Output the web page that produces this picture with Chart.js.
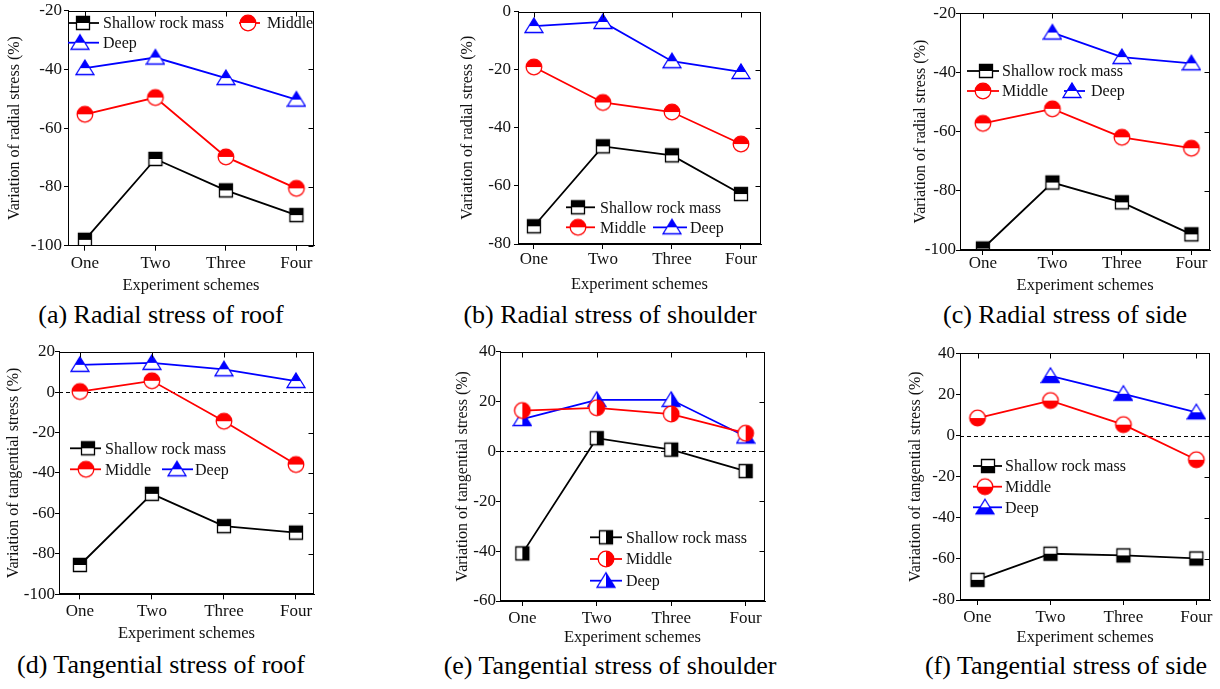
<!DOCTYPE html>
<html>
<head>
<meta charset="utf-8">
<script src="https://cdn.jsdelivr.net/npm/chart.js@4.4.1/dist/chart.umd.min.js"></script>
<style>
  body { margin: 0; background: #fff; }
  #page { position: relative; width: 1220px; height: 689px; overflow: hidden; background: #fff; }
  .panel { position: absolute; }
  .cap { position: absolute; font-family: "Liberation Serif", "Times New Roman", serif; font-size: 26px;
         line-height: 30px; white-space: nowrap; transform: translateX(-50%); color: #000; }
</style>
</head>
<body>
<div id="page"></div>
<script>
const schemes = ['One', 'Two', 'Three', 'Four'];
const seriesNames = ['Shallow rock mass', 'Middle', 'Deep'];
const seriesColors = ['#000000', '#ff0000', '#0000ff'];

// (a) radial stress of roof
const radialRoofShallow = [-98, -70.5, -81.2, -89.6];
const radialRoofMiddle = [-55.3, -49.6, -69.8, -80.5];
const radialRoofDeep = [-39.6, -36, -43, -50.3];

// (b) radial stress of shoulder
const radialShoulderShallow = [-73.9, -46.4, -49.5, -62.8];
const radialShoulderMiddle = [-19.1, -31.3, -34.6, -45.6];
const radialShoulderDeep = [-5, -3.6, -17.1, -20.8];

// (c) radial stress of side
const radialSideShallow = [-99.5, -77.2, -83.9, -94.7];
const radialSideMiddle = [-57.2, -52.3, -61.9, -65.6];
const radialSideDeep = [null, -26.5, -34.8, -36.9];

// (d) tangential stress of roof
const tangRoofShallow = [-85.5, -50.3, -66.3, -69.5];
const tangRoofMiddle = [0.3, 5.6, -14.4, -35.8];
const tangRoofDeep = [13.5, 14.5, 11.3, 5.5];

// (e) tangential stress of shoulder
const tangShoulderShallow = [-40.9, 5.3, 0.7, -7.9];
const tangShoulderMiddle = [16.4, 17.5, 15, 7.3];
const tangShoulderDeep = [13, 20.7, 20.7, 6];

// (f) tangential stress of side
const tangSideShallow = [-70.2, -57.5, -58.3, -59.8];
const tangSideMiddle = [8.5, 17, 5.3, -11.8];
const tangSideDeep = [null, 29, 20.3, 11.3];

const FONT = '"Liberation Serif", "Times New Roman", serif';

// half filled markers, like the Origin ones
function makeMarker(shape, color, half) {
  const s = 20;
  const c = document.createElement('canvas');
  c.width = s; c.height = s;
  const ctx = c.getContext('2d');
  const cx = s / 2, cy = s / 2;
  function path() {
    ctx.beginPath();
    if (shape === 'square') ctx.rect(cx - 6.5, cy - 6.5, 13, 13);
    else if (shape === 'circle') ctx.arc(cx, cy, 7.8, 0, Math.PI * 2);
    else {
      ctx.moveTo(cx, cy - 8);
      ctx.lineTo(cx + 9, cy + 6.5);
      ctx.lineTo(cx - 9, cy + 6.5);
      ctx.closePath();
    }
  }
  path();
  ctx.fillStyle = '#fff';
  ctx.fill();
  ctx.save();
  path();
  ctx.clip();
  ctx.fillStyle = color;
  if (half === 'top') ctx.fillRect(0, 0, s, cy);
  else if (half === 'bottom') ctx.fillRect(0, cy, s, s);
  else ctx.fillRect(cx, 0, s, s);
  ctx.restore();
  path();
  ctx.strokeStyle = color;
  ctx.lineWidth = 1.3;
  ctx.stroke();
  return c;
}

const shapes = ['square', 'circle', 'triangle'];

const panels = [
  { left: 0, top: 0, w: 330, h: 294, area: { l: 68, t: 9, r: 314, b: 245.7 },
    yMin: -100, yMax: -20, xMin: -0.24, xMax: 3.25, yTitle: 'Variation of radial stress (%)',
    yTitlePad: 5.4, yPad: 2, xPad: 4, half: 'top', zero: false,
    values: [radialRoofShallow, radialRoofMiddle, radialRoofDeep],
    legend: [{ s: 0, x: 68, y: 23, len: 31, m: 15, t: 35 }, { s: 1, x: 239, y: 23, len: 21, m: 9, t: 28 },
             { s: 2, x: 68, y: 42.7, len: 31, m: 12, t: 35 }],
    caption: '(a) Radial stress of roof', cx: 161, cy: 315 },
  { left: 450, top: 0, w: 330, h: 293, area: { l: 518, t: 11, r: 761, b: 244 },
    yMin: -80, yMax: 0, xMin: -0.23, xMax: 3.29, yTitle: 'Variation of radial stress (%)',
    yTitlePad: 8.4, yPad: 3, xPad: 2.5, half: 'top', zero: false,
    values: [radialShoulderShallow, radialShoulderMiddle, radialShoulderDeep],
    legend: [{ s: 0, x: 566, y: 207.3, len: 29, m: 12, t: 34 }, { s: 1, x: 566, y: 227.3, len: 29, m: 12, t: 34 },
             { s: 2, x: 653, y: 227.3, len: 34, m: 19, t: 37 }],
    caption: '(b) Radial stress of shoulder', cx: 610, cy: 315 },
  { left: 905, top: 0, w: 315, h: 294, area: { l: 960, t: 13.3, r: 1212, b: 250 },
    yMin: -100, yMax: -20, xMin: -0.33, xMax: 3.27, yTitle: 'Variation of radial stress (%)',
    yTitlePad: 6.4, yPad: 0, xPad: 0, half: 'top', zero: false,
    values: [radialSideShallow, radialSideMiddle, radialSideDeep],
    legend: [{ s: 0, x: 967, y: 71, len: 32, m: 19, t: 35 }, { s: 1, x: 967, y: 91, len: 32, m: 16, t: 35 },
             { s: 2, x: 1064, y: 91, len: 21, m: 8, t: 27 }],
    caption: '(c) Radial stress of side', cx: 1065, cy: 315 },
  { left: 0, top: 340, w: 330, h: 302.3, area: { l: 59, t: 351.7, r: 314, b: 594.3 },
    yMin: -100, yMax: 20, xMin: -0.29, xMax: 3.25, yTitle: 'Variation of tangential stress (%)',
    yTitlePad: 4.4, yPad: 0, xPad: 3.9, half: 'top', zero: true,
    values: [tangRoofShallow, tangRoofMiddle, tangRoofDeep],
    legend: [{ s: 0, x: 70, y: 448.3, len: 31, m: 18, t: 35 }, { s: 1, x: 70, y: 469.3, len: 31, m: 16, t: 35 },
             { s: 2, x: 162, y: 469.3, len: 31, m: 15, t: 33 }],
    caption: '(d) Tangential stress of roof', cx: 161, cy: 665 },
  { left: 448, top: 340, w: 332, h: 306.3, area: { l: 500, t: 351.7, r: 765, b: 601 },
    yMin: -60, yMax: 40, xMin: -0.3, xMax: 3.26, yTitle: 'Variation of tangential stress (%)',
    yTitlePad: 4.9, yPad: 0, xPad: 3.8, half: 'right', zero: true,
    values: [tangShoulderShallow, tangShoulderMiddle, tangShoulderDeep],
    legend: [{ s: 0, x: 590, y: 537.3, len: 32, m: 16, t: 36 }, { s: 1, x: 590, y: 559, len: 32, m: 16, t: 36 },
             { s: 2, x: 590, y: 580.7, len: 32, m: 16, t: 36 }],
    caption: '(e) Tangential stress of shoulder', cx: 610, cy: 666 },
  { left: 900, top: 340, w: 320, h: 305.7, area: { l: 960, t: 353.3, r: 1212, b: 600 },
    yMin: -80, yMax: 40, xMin: -0.24, xMax: 3.19, yTitle: 'Variation of tangential stress (%)',
    yTitlePad: 6.2, yPad: 1, xPad: 3.8, half: 'bottom', zero: true,
    values: [tangSideShallow, tangSideMiddle, tangSideDeep],
    legend: [{ s: 0, x: 973, y: 466, len: 29, m: 15, t: 32 }, { s: 1, x: 973, y: 486.7, len: 29, m: 12, t: 32 },
             { s: 2, x: 973, y: 507.3, len: 29, m: 12, t: 32 }],
    caption: '(f) Tangential stress of side', cx: 1066, cy: 666 }
];

// frame with inward ticks on top/right, dashed zero line, legend
const framePlugin = {
  id: 'frame',
  beforeDatasetsDraw(chart, args, opts) {
    if (!opts.zero) return;
    const { ctx, chartArea } = chart;
    const y0 = Math.round(chart.scales.y.getPixelForValue(0)) + 0.5;
    ctx.save();
    ctx.strokeStyle = '#000';
    ctx.lineWidth = 1;
    ctx.setLineDash([4, 3]);
    ctx.beginPath();
    ctx.moveTo(chartArea.left, y0);
    ctx.lineTo(chartArea.right, y0);
    ctx.stroke();
    ctx.restore();
  },
  afterDraw(chart, args, opts) {
    const { ctx, chartArea } = chart;
    const l = Math.round(chartArea.left) + 0.5, r = Math.round(chartArea.right) - 0.5;
    const t = Math.round(chartArea.top) + 0.5, b = Math.round(chartArea.bottom) - 0.5;
    ctx.save();
    ctx.strokeStyle = '#000';
    ctx.lineWidth = 1;
    ctx.strokeRect(l, t, r - l, b - t);
    ctx.beginPath();
    chart.scales.y.ticks.forEach(tk => {
      const py = Math.round(chart.scales.y.getPixelForValue(tk.value)) + 0.5;
      ctx.moveTo(r, py); ctx.lineTo(r - 5, py);
    });
    chart.scales.x.ticks.forEach(tk => {
      const px = Math.round(chart.scales.x.getPixelForValue(tk.value)) + 0.5;
      ctx.moveTo(px, t); ctx.lineTo(px, t + 5);
    });
    ctx.stroke();

    // legend
    ctx.font = '16px ' + FONT;
    ctx.textBaseline = 'middle';
    ctx.fillStyle = '#111';
    opts.legend.forEach(it => {
      const x = it.x - opts.ox, y = it.y - opts.oy;
      ctx.strokeStyle = seriesColors[it.s];
      ctx.lineWidth = 1.8;
      ctx.beginPath();
      ctx.moveTo(x, y); ctx.lineTo(x + it.len, y);
      ctx.stroke();
      const mk = opts.markers[it.s];
      ctx.drawImage(mk, x + it.m - mk.width / 2, y - mk.height / 2);
      ctx.fillText(seriesNames[it.s], x + it.t, y + 1);
    });
    ctx.restore();
  }
};

const page = document.getElementById('page');

panels.forEach(p => {
  const box = document.createElement('div');
  box.className = 'panel';
  box.style.left = p.left + 'px';
  box.style.top = p.top + 'px';
  const canvas = document.createElement('canvas');
  canvas.width = p.w;
  canvas.height = Math.round(p.h);
  box.appendChild(canvas);
  page.appendChild(box);

  const cap = document.createElement('div');
  cap.className = 'cap';
  cap.textContent = p.caption;
  cap.style.left = p.cx + 'px';
  cap.style.top = (p.cy - 15) + 'px';
  page.appendChild(cap);

  const markers = shapes.map((sh, i) => makeMarker(sh, seriesColors[i], p.half));
  const yAxisW = p.area.l - p.left;
  const xAxisH = Math.round(p.h) - (p.area.b - p.top);

  const datasets = p.values.map((vals, i) => ({
    label: seriesNames[i],
    data: vals.map((v, k) => ({ x: k, y: v })),
    borderColor: seriesColors[i],
    backgroundColor: seriesColors[i],
    borderWidth: 1.8,
    tension: 0,
    pointStyle: markers[i],
    pointRadius: 8,
    pointHoverRadius: 8
  }));

  new Chart(canvas, {
    type: 'line',
    data: { datasets: datasets },
    plugins: [framePlugin],
    options: {
      responsive: false,
      animation: false,
      events: [],
      layout: {
        padding: { left: 0, bottom: 0, top: p.area.t - p.top, right: p.left + p.w - p.area.r }
      },
      plugins: {
        legend: { display: false },
        tooltip: { enabled: false },
        frame: { zero: p.zero, legend: p.legend, markers: markers, ox: p.left, oy: p.top }
      },
      scales: {
        x: {
          type: 'linear',
          min: p.xMin,
          max: p.xMax,
          afterBuildTicks: sc => { sc.ticks = schemes.map((s, k) => ({ value: k })); },
          afterFit: sc => { sc.height = xAxisH; },
          grid: { display: true, drawOnChartArea: false, tickLength: 5, color: '#000' },
          border: { display: true, color: '#000', width: 1 },
          ticks: {
            callback: v => schemes[v],
            font: { family: FONT, size: 17, lineHeight: 1 },
            color: '#111',
            padding: p.xPad,
            maxRotation: 0
          },
          title: {
            display: true,
            text: 'Experiment schemes',
            font: { family: FONT, size: 16.5, lineHeight: 1 },
            color: '#111',
            padding: { top: 0, bottom: 0 }
          }
        },
        y: {
          min: p.yMin,
          max: p.yMax,
          afterFit: sc => { sc.width = yAxisW; },
          grid: { display: true, drawOnChartArea: false, tickLength: 4, color: '#000' },
          border: { display: true, color: '#000', width: 1 },
          ticks: {
            stepSize: 20,
            font: { family: FONT, size: 17, lineHeight: 1 },
            color: '#111',
            padding: p.yPad
          },
          title: {
            display: true,
            text: p.yTitle,
            font: { family: FONT, size: 16 },
            color: '#111',
            padding: { top: p.yTitlePad, bottom: 0 }
          }
        }
      }
    }
  });
});
</script>
</body>
</html>
